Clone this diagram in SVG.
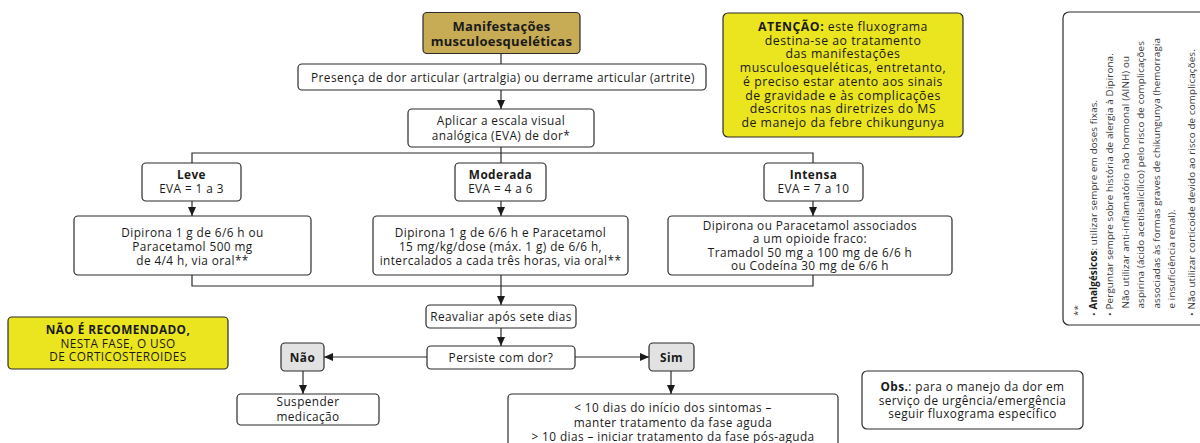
<svg xmlns="http://www.w3.org/2000/svg" width="1200" height="443" viewBox="0 0 1200 443">
<defs>
<marker id="arr" markerUnits="userSpaceOnUse" markerWidth="9" markerHeight="9" refX="9" refY="4.5" orient="auto">
<path d="M0,0.5 L9,4.5 L0,8.5 z" fill="#1a1a1a"/>
</marker>
<style>
.box{fill:#fff;stroke:#2b2b2b;stroke-width:1.2}
.gold{fill:#C7AB55;stroke:#2b2b2b;stroke-width:1.2}
.yel{fill:#EAE51F;stroke:#2b2b2b;stroke-width:1.2}
.grey{fill:#E2E2E2;stroke:#2b2b2b;stroke-width:1.2}
.t{font-family:"Open Sans","DejaVu Sans",sans-serif;font-size:11.8px;letter-spacing:0.42px;fill:#1a1a1a;text-anchor:middle}
.b{font-weight:bold}
.h{font-size:13px;letter-spacing:0.3px}
.a{font-size:12.3px;letter-spacing:0.5px}
.v{font-family:"Open Sans","DejaVu Sans",sans-serif;font-size:9.8px;letter-spacing:0.15px;fill:#3a3a3a}
.ln{fill:none;stroke:#2b2b2b;stroke-width:1.2}
</style>
</defs>
<g id="connectors" class="ln">
<line x1="501" y1="53" x2="501" y2="64"/>
<line x1="501" y1="90" x2="501" y2="109" marker-end="url(#arr)"/>
<polyline points="501,147 501,153"/>
<polyline points="192,163 192,153 813,153 813,163"/>
<line x1="501" y1="153" x2="501" y2="163"/>
<line x1="192" y1="201" x2="192" y2="216" marker-end="url(#arr)"/>
<line x1="501" y1="201" x2="501" y2="216" marker-end="url(#arr)"/>
<line x1="813" y1="201" x2="813" y2="216" marker-end="url(#arr)"/>
<polyline points="192,275 192,286 813,286 813,275"/>
<line x1="501" y1="275" x2="501" y2="305" marker-end="url(#arr)"/>
<line x1="501" y1="328" x2="501" y2="346" marker-end="url(#arr)"/>
<line x1="427" y1="357" x2="324" y2="357" marker-end="url(#arr)"/>
<line x1="575" y1="357" x2="649" y2="357" marker-end="url(#arr)"/>
<line x1="303" y1="371" x2="303" y2="394" marker-end="url(#arr)"/>
<line x1="671" y1="371" x2="671" y2="394" marker-end="url(#arr)"/>
</g>
<g id="n-title"><rect class="gold" x="423" y="12.5" width="157" height="41" rx="4"/>
<text class="t b h" x="501.5" y="30.5">Manifestações</text>
<text class="t b h" x="501.5" y="45.5">musculoesqueléticas</text></g>
<g id="n-presenca"><rect class="box" x="298" y="64" width="408" height="26" rx="4"/>
<text class="t" x="503" y="81.5">Presença de dor articular (artralgia) ou derrame articular (artrite)</text></g>
<g id="n-eva"><rect class="box" x="408" y="109" width="186" height="38" rx="4"/>
<text class="t" x="501" y="125">Aplicar a escala visual</text>
<text class="t" x="501" y="140">analógica (EVA) de dor*</text></g>
<g id="n-leve"><rect class="box" x="142" y="163" width="99" height="38" rx="4"/>
<text class="t b" x="191.5" y="178.5">Leve</text>
<text class="t" x="191.5" y="192.5">EVA = 1 a 3</text></g>
<g id="n-moderada"><rect class="box" x="455" y="163" width="91" height="38" rx="4"/>
<text class="t b" x="500.5" y="178.5">Moderada</text>
<text class="t" x="500.5" y="192.5">EVA = 4 a 6</text></g>
<g id="n-intensa"><rect class="box" x="764" y="163" width="99" height="38" rx="4"/>
<text class="t b" x="813.5" y="178.5">Intensa</text>
<text class="t" x="813.5" y="192.5">EVA = 7 a 10</text></g>
<g id="n-trat-leve"><rect class="box" x="74" y="216" width="237" height="59" rx="4"/>
<text class="t" x="192.5" y="236.5">Dipirona 1 g de 6/6 h ou</text>
<text class="t" x="192.5" y="250.5">Paracetamol 500 mg</text>
<text class="t" x="192.5" y="264.5">de 4/4 h, via oral**</text></g>
<g id="n-trat-moderada"><rect class="box" x="373" y="216" width="255" height="59" rx="4"/>
<text class="t" x="500.5" y="236.5">Dipirona 1 g de 6/6 h e Paracetamol</text>
<text class="t" x="500.5" y="250.5">15 mg/kg/dose (máx. 1 g) de 6/6 h,</text>
<text class="t" x="500.5" y="264.5">intercalados a cada três horas, via oral**</text></g>
<g id="n-trat-intensa"><rect class="box" x="668" y="216" width="284" height="59" rx="4"/>
<text class="t" x="810" y="229.5">Dipirona ou Paracetamol associados</text>
<text class="t" x="810" y="243">a um opioide fraco:</text>
<text class="t" x="810" y="256.5">Tramadol 50 mg a 100 mg de 6/6 h</text>
<text class="t" x="810" y="270">ou Codeína 30 mg de 6/6 h</text></g>
<g id="n-reavaliar"><rect class="box" x="426" y="305" width="150" height="23" rx="4"/>
<text class="t" x="501" y="321">Reavaliar após sete dias</text></g>
<g id="n-persiste"><rect class="box" x="427" y="346" width="148" height="23" rx="4"/>
<text class="t" x="501" y="362">Persiste com dor?</text></g>
<g id="n-nao"><rect class="grey" x="281" y="343" width="43" height="28" rx="4"/>
<text class="t b" x="302.5" y="361.5">Não</text></g>
<g id="n-sim"><rect class="grey" x="649" y="343" width="45" height="28" rx="4"/>
<text class="t b" x="671.5" y="361.5">Sim</text></g>
<g id="n-suspender"><rect class="box" x="237" y="394" width="142" height="31" rx="4"/>
<text class="t" x="308" y="406">Suspender</text>
<text class="t" x="308" y="420.5">medicação</text></g>
<g id="n-fase"><rect class="box" x="508" y="394" width="330" height="60" rx="4"/>
<text class="t" x="673" y="412">&lt; 10 dias do início dos sintomas –</text>
<text class="t" x="673" y="426.5">manter tratamento da fase aguda</text>
<text class="t" x="673" y="441">&gt; 10 dias – iniciar tratamento da fase pós-aguda</text></g>
<g id="n-naorecomendado"><rect class="yel" x="8" y="317" width="220" height="52" rx="4"/>
<text class="t b" x="118" y="334">NÃO É RECOMENDADO,</text>
<text class="t" x="118" y="347.5">NESTA FASE, O USO</text>
<text class="t" x="118" y="361">DE CORTICOSTEROIDES</text></g>
<g id="n-atencao"><rect class="yel" x="723" y="13" width="240" height="124" rx="5"/>
<text class="t a" x="843" y="31"><tspan class="b">ATENÇÃO:</tspan>  este fluxograma</text>
<text class="t a" x="843" y="44.7">destina-se ao tratamento</text>
<text class="t a" x="843" y="58.4">das manifestações</text>
<text class="t a" x="843" y="72.1">musculoesqueléticas, entretanto,</text>
<text class="t a" x="843" y="85.8">é preciso estar atento aos sinais</text>
<text class="t a" x="843" y="99.5">de gravidade e às complicações</text>
<text class="t a" x="843" y="113.2">descritos nas diretrizes do MS</text>
<text class="t a" x="843" y="126.9">de manejo da febre chikungunya</text></g>
<g id="n-obs"><rect class="box" x="862" y="371" width="221" height="58" rx="5"/>
<text class="t" x="972.5" y="391"><tspan class="b">Obs.</tspan>: para o manejo da dor em</text>
<text class="t" x="972.5" y="404.5">serviço de urgência/emergência</text>
<text class="t" x="972.5" y="418">seguir fluxograma específico</text></g>
<g id="n-notas"><rect class="box" x="1063" y="12" width="160" height="313" rx="6"/>
<text class="v" transform="translate(1081,316) rotate(-90)">**</text>
<text class="v" transform="translate(1097,316) rotate(-90)">• <tspan font-weight="bold" fill="#1a1a1a">Analgésicos</tspan>: utilizar sempre em doses fixas.</text>
<text class="v" transform="translate(1113,316) rotate(-90)">• Perguntar sempre sobre história de alergia à Dipirona.</text>
<text class="v" transform="translate(1128.5,308.5) rotate(-90)">Não utilizar anti-inflamatório não hormonal (AINH) ou</text>
<text class="v" transform="translate(1144,308.5) rotate(-90)">aspirina (ácido acetilsalicílico) pelo risco de complicações</text>
<text class="v" transform="translate(1159.5,308.5) rotate(-90)">associadas às formas graves de chikungunya (hemorragia</text>
<text class="v" transform="translate(1175,308.5) rotate(-90)">e insuficiência renal).</text>
<text class="v" transform="translate(1195,316) rotate(-90)">• Não utilizar corticoide devido ao risco de complicações.</text></g>
</svg>
